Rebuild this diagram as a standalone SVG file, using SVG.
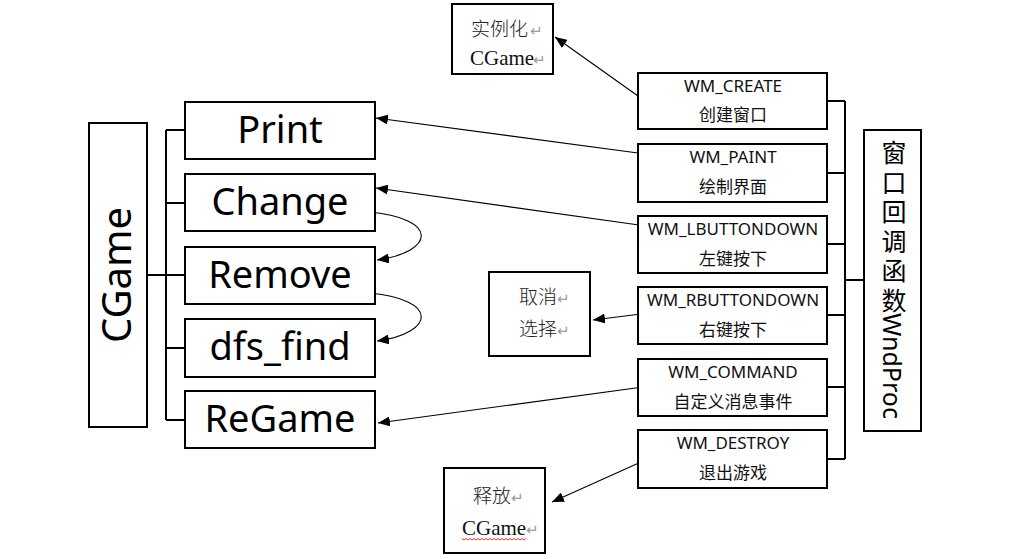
<svg xmlns="http://www.w3.org/2000/svg" width="1032" height="559" viewBox="0 0 1032 559">
<style>
.box{fill:#fff;stroke:#000;stroke-width:2}
.br{fill:none;stroke:#000;stroke-width:2}
.ar{fill:none;stroke:#000;stroke-width:1.1}
.big{font-family:"Noto Sans","Open Sans",sans-serif;font-size:38px;fill:#000;text-anchor:middle}
.wm{font-family:"Noto Sans","Noto Sans CJK SC",sans-serif;font-size:17px;fill:#111;text-anchor:middle}
.cn{font-family:"Noto Sans CJK SC",sans-serif;font-size:17px;fill:#111;text-anchor:middle}
.vt{font-family:"Noto Sans","Noto Sans CJK SC",sans-serif;font-size:25px;fill:#000;writing-mode:vertical-rl}
.sr{font-family:"Liberation Serif","Noto Sans CJK SC",serif;font-size:21px;fill:#111}
.sc{font-family:"Noto Sans CJK SC",sans-serif;font-size:19px;fill:#222;font-weight:300}
.pm{font-family:"DejaVu Sans",sans-serif;font-size:15px;fill:#9a9a9a}
</style>
<defs>
<marker id="ah" markerWidth="13" markerHeight="10" refX="12" refY="5" orient="auto" markerUnits="userSpaceOnUse">
<path d="M0,0 L12,5 L0,10 Z" fill="#000"/>
</marker>
</defs>
<rect width="1032" height="559" fill="#fff"/>

<g id="connectors">
<path class="br" d="M147,275 H166 M166,130 V420 M166,130 H185 M166,203 H185 M166,275 H185 M166,348 H185 M166,420 H185"/>
<path class="br" d="M827,101 H845 M845,101 V459 M827,173 H845 M827,244 H845 M827,315 H845 M827,387 H845 M827,459 H845 M845,280 H864"/>
<path class="ar" d="M638,96 L555,37" marker-end="url(#ah)"/>
<path class="ar" d="M638,153 L376,118" marker-end="url(#ah)"/>
<path class="ar" d="M639,225 L376,188" marker-end="url(#ah)"/>
<path class="ar" d="M641,314 L593,320" marker-end="url(#ah)"/>
<path class="ar" d="M643,387 L378,423" marker-end="url(#ah)"/>
<path class="ar" d="M641,462 L552,502" marker-end="url(#ah)"/>
<path class="ar" d="M368,212 C440,218 435,252 377,260" marker-end="url(#ah)"/>
<path class="ar" d="M368,293 C440,299 435,333 377,341" marker-end="url(#ah)"/>
</g>

<g id="cgame">
<rect class="box" x="89" y="123" width="58" height="304"/>
<text class="big" style="font-size:40px" transform="translate(131,275) rotate(-90)">CGame</text>
</g>
<g id="print">
<rect class="box" x="185" y="102" width="190" height="57"/>
<text class="big" x="280" y="143">Print</text>
</g>
<g id="change">
<rect class="box" x="185" y="174" width="190" height="57"/>
<text class="big" x="280" y="215">Change</text>
</g>
<g id="remove">
<rect class="box" x="185" y="247" width="190" height="57"/>
<text class="big" x="280" y="288">Remove</text>
</g>
<g id="dfs_find">
<rect class="box" x="185" y="319" width="190" height="58"/>
<text class="big" x="280" y="360">dfs_find</text>
</g>
<g id="regame">
<rect class="box" x="185" y="391" width="190" height="57"/>
<text class="big" x="280" y="432">ReGame</text>
</g>

<g id="wm_create">
<rect class="box" x="638" y="73" width="189" height="56"/>
<text class="wm" x="733" y="92">WM_CREATE</text>
<text class="cn" x="733" y="121">创建窗口</text>
</g>
<g id="wm_paint">
<rect class="box" x="638" y="144" width="189" height="58"/>
<text class="wm" x="733" y="163">WM_PAINT</text>
<text class="cn" x="733" y="193">绘制界面</text>
</g>
<g id="wm_lbuttondown">
<rect class="box" x="638" y="216" width="189" height="57"/>
<text class="wm" x="733" y="235">WM_LBUTTONDOWN</text>
<text class="cn" x="733" y="265">左键按下</text>
</g>
<g id="wm_rbuttondown">
<rect class="box" x="638" y="287" width="189" height="57"/>
<text class="wm" x="733" y="306">WM_RBUTTONDOWN</text>
<text class="cn" x="733" y="336">右键按下</text>
</g>
<g id="wm_command">
<rect class="box" x="638" y="359" width="189" height="57"/>
<text class="wm" x="733" y="378">WM_COMMAND</text>
<text class="cn" x="733" y="408">自定义消息事件</text>
</g>
<g id="wm_destroy">
<rect class="box" x="638" y="430" width="189" height="58"/>
<text class="wm" x="733" y="449">WM_DESTROY</text>
<text class="cn" x="733" y="479">退出游戏</text>
</g>

<g id="wndproc">
<rect class="box" x="864" y="130" width="57" height="301"/>
<text class="vt" x="893" y="140"><tspan style="letter-spacing:4.5px">窗口回调函</tspan><tspan>数WndProc</tspan></text>
</g>

<g id="instantiate">
<rect class="box" x="452" y="4" width="101" height="70"/>
<text class="sc" x="471" y="36">实例化</text>
<text class="pm" x="530" y="36">↵</text>
<text class="sr" x="470" y="65">CGame</text>
<text class="pm" x="533" y="65">↵</text>
</g>
<g id="cancel">
<rect class="box" x="489" y="272" width="101" height="84"/>
<text class="sc" x="519" y="304">取消</text>
<text class="pm" x="557" y="304">↵</text>
<text class="sc" x="519" y="336">选择</text>
<text class="pm" x="557" y="336">↵</text>
</g>
<g id="release">
<rect class="box" x="444" y="468" width="101" height="85"/>
<text class="sc" x="473" y="503">释放</text>
<text class="pm" x="511" y="503">↵</text>
<text class="sr" x="462" y="535">CGame</text>
<text class="pm" x="526" y="535">↵</text>
<path d="M462,538.5 l2,1.5 l2,-1.5 l2,1.5 l2,-1.5 l2,1.5 l2,-1.5 l2,1.5 l2,-1.5 l2,1.5 l2,-1.5 l2,1.5 l2,-1.5 l2,1.5 l2,-1.5 l2,1.5 l2,-1.5 l2,1.5 l2,-1.5 l2,1.5 l2,-1.5 l2,1.5 l2,-1.5 l2,1.5 l2,-1.5 l2,1.5 l2,-1.5 l2,1.5 l2,-1.5 l2,1.5 l2,-1.5 l2,1.5 l2,-1.5" fill="none" stroke="#e00" stroke-width="0.8"/>
</g>
</svg>
